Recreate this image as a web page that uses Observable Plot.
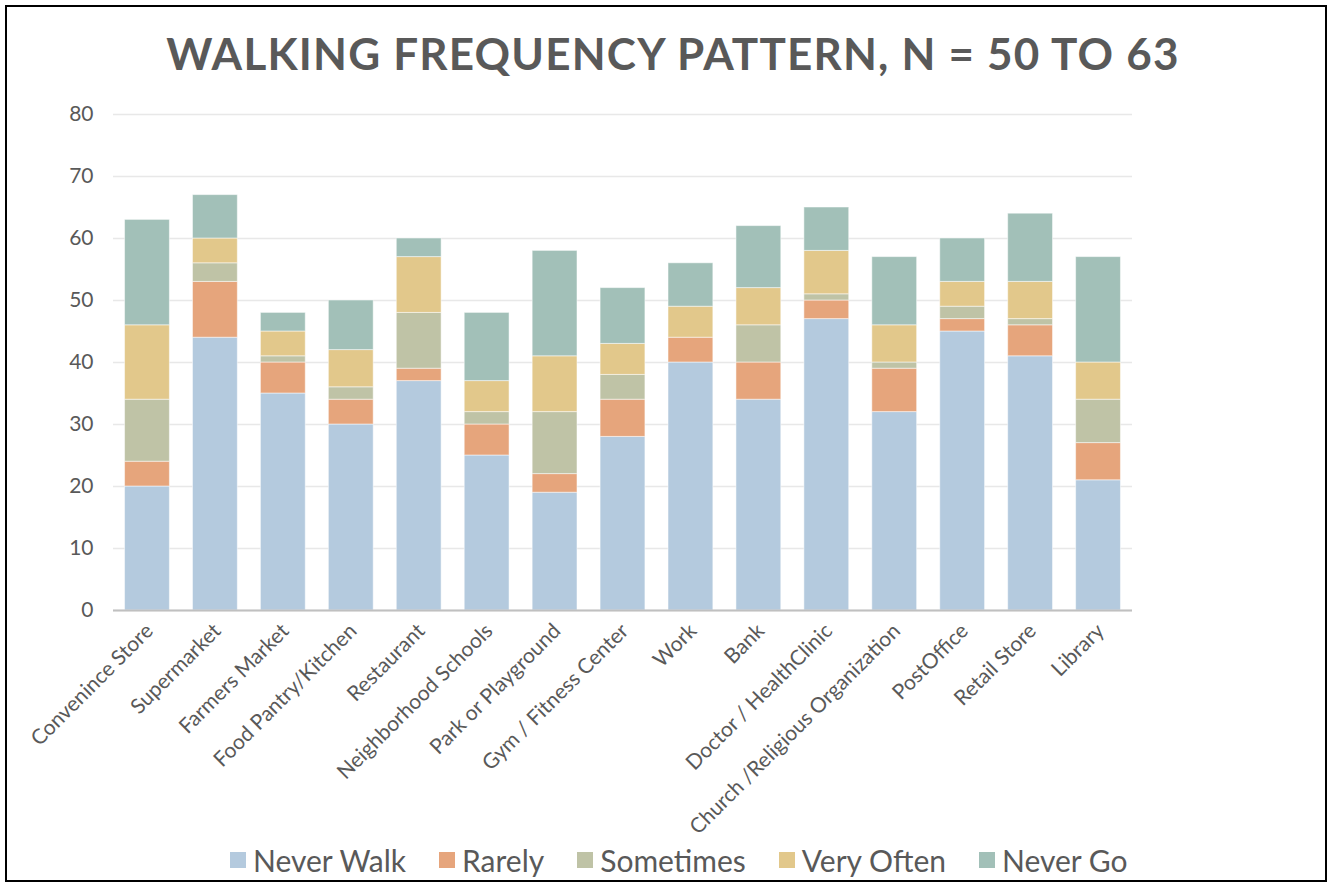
<!DOCTYPE html>
<html>
<head>
<meta charset="utf-8">
<script src="https://cdn.jsdelivr.net/npm/d3@7"></script>
<script src="https://cdn.jsdelivr.net/npm/@observablehq/plot@0.6"></script>
<style>
  html, body { margin: 0; padding: 0; background: #fff; width: 1331px; height: 882px; overflow: hidden; }
  #frame { position: absolute; left: 5px; top: 5px; width: 1318px; height: 873px; border: 2px solid #000; box-sizing: content-box; }
  #title { position: absolute; left: 0; width: 1346px; top: 28px; text-align: center; font-family: Lato, sans-serif; font-weight: 700; font-size: 44px; line-height: 50px; letter-spacing: 1.2px; color: #595959; white-space: nowrap; }
  #chart { position: absolute; left: 0; top: 94px; }
  #legend { position: absolute; left: 230px; top: 841px; display: flex; align-items: center; font-family: Lato, sans-serif; font-size: 30px; line-height: 38px; color: #595959; white-space: nowrap; }
  #legend .item { display: flex; align-items: center; margin-right: 33px; }
  #legend .sw { width: 16px; height: 16px; margin-right: 7px; }
</style>
</head>
<body>
<div id="frame"></div>
<div id="title">WALKING FREQUENCY PATTERN, N = 50 TO 63</div>
<div id="chart"></div>
<div id="legend"></div>
<script>
const categories = ["Convenince Store", "Supermarket", "Farmers Market", "Food Pantry/Kitchen", "Restaurant", "Neighborhood Schools", "Park or Playground", "Gym / Fitness Center", "Work", "Bank", "Doctor / HealthClinic", "Church /Religious Organization", "PostOffice", "Retail Store", "Library"];
const series = ["Never Walk", "Rarely", "Sometimes", "Very Often", "Never Go"];
const neverWalk = [20, 44, 35, 30, 37, 25, 19, 28, 40, 34, 47, 32, 45, 41, 21];
const rarely    = [4, 9, 5, 4, 2, 5, 3, 6, 4, 6, 3, 7, 2, 5, 6];
const sometimes = [10, 3, 1, 2, 9, 2, 10, 4, 0, 6, 1, 1, 2, 1, 7];
const veryOften = [12, 4, 4, 6, 9, 5, 9, 5, 5, 6, 7, 6, 4, 6, 6];
const neverGo   = [17, 7, 3, 8, 3, 11, 17, 9, 7, 10, 7, 11, 7, 11, 17];
const yTicks = [0, 10, 20, 30, 40, 50, 60, 70, 80];
const colors = ["#b4cade", "#e6a57c", "#bfc3a6", "#e2c88b", "#a2c0b8"];

const seriesValues = [neverWalk, rarely, sometimes, veryOften, neverGo];
const data = [];
categories.forEach((c, i) => {
  series.forEach((s, j) => {
    data.push({category: c, status: s, value: seriesValues[j][i]});
  });
});

const chart = Plot.plot({
  width: 1331,
  height: 766,
  marginLeft: 113,
  marginRight: 199,
  marginTop: 20,
  marginBottom: 250,
  style: {fontFamily: "Lato, sans-serif", fontSize: "19px", color: "#595959", background: "transparent", overflow: "visible"},
  x: {domain: categories, paddingInner: 0.34, paddingOuter: 0.17, round: false, label: null},
  y: {domain: [0, 80], label: null},
  color: {domain: series, range: colors},
  marks: [
    Plot.gridY(yTicks, {stroke: "#e8e8e8", strokeOpacity: 1, strokeWidth: 1.5}),
    Plot.barY(data, {x: "category", y: "value", fill: "status", stroke: "#ffffff", strokeOpacity: 0.5, strokeWidth: 1}),
    Plot.ruleY([0], {stroke: "#c0c0c0", strokeWidth: 2}),
    Plot.axisY({ticks: yTicks, tickSize: 0, tickPadding: 20, fontSize: 21, label: null}),
    Plot.axisX({tickRotate: -45, tickSize: 0, tickPadding: 17, dx: 2, fontSize: 21, label: null})
  ]
});
document.getElementById("chart").appendChild(chart);

const legend = document.getElementById("legend");
series.forEach((s, j) => {
  const item = document.createElement("div");
  item.className = "item";
  const sw = document.createElement("div");
  sw.className = "sw";
  sw.style.background = colors[j];
  const t = document.createElement("span");
  t.textContent = s;
  item.appendChild(sw);
  item.appendChild(t);
  legend.appendChild(item);
});
</script>
</body>
</html>
